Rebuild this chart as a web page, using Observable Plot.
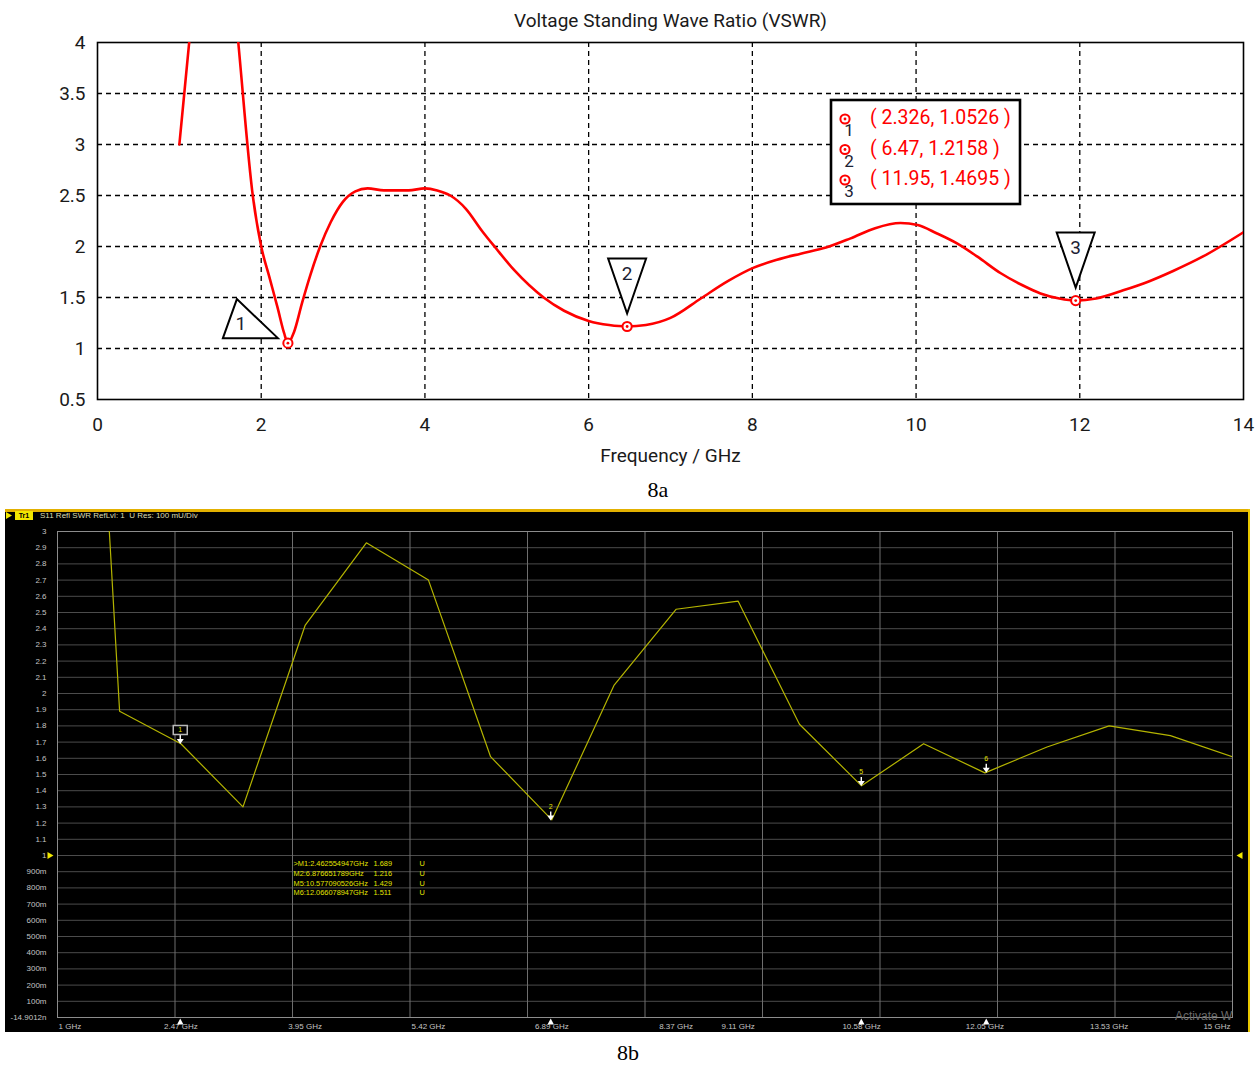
<!DOCTYPE html>
<html><head><meta charset="utf-8">
<script src="https://cdn.jsdelivr.net/npm/d3@7"></script>
<script src="https://cdn.jsdelivr.net/npm/@observablehq/plot@0.6"></script>
<style>
body{margin:0;background:#fff;width:1258px;height:1068px;position:relative;overflow:hidden}
#top{position:absolute;left:0;top:0}
#bot{position:absolute;left:5px;top:509px}
.cap{position:absolute;font-family:"Liberation Serif",serif;font-size:22px;color:#000;transform:translate(-50%,-50%)}
</style></head><body>
<div id="top"></div>
<div class="cap" style="left:658px;top:490px">8a</div>
<div id="bot"></div>
<div class="cap" style="left:628px;top:1053px">8b</div>
<script>
// ---------- 8a : simulated VSWR ----------
const simFreq = [1.0, 1.12, 1.3, 1.55, 1.72, 1.9, 2.0, 2.1, 2.2, 2.28, 2.326, 2.4, 2.5, 2.6, 2.72, 2.85, 3.0, 3.15, 3.3, 3.5, 3.8, 4.0, 4.15, 4.31, 4.5, 4.7, 4.86, 5.1, 5.45, 5.7, 6.0, 6.25, 6.47, 6.7, 7.0, 7.37, 7.7, 8.01, 8.3, 8.59, 8.9, 9.2, 9.5, 9.81, 10.02, 10.25, 10.5, 10.75, 11.03, 11.3, 11.52, 11.75, 11.95, 12.2, 12.53, 12.85, 13.14, 13.5, 14.0];
const simVswr = [3.0, 4.0, 5.5, 5.5, 4.0, 2.48, 2.0, 1.7, 1.4, 1.15, 1.0526, 1.16, 1.45, 1.72, 2.0, 2.24, 2.44, 2.54, 2.57, 2.55, 2.55, 2.57, 2.55, 2.5, 2.37, 2.15, 1.99, 1.76, 1.5, 1.37, 1.27, 1.23, 1.2158, 1.23, 1.3, 1.49, 1.66, 1.79, 1.87, 1.93, 1.99, 2.08, 2.18, 2.23, 2.21, 2.13, 2.03, 1.9, 1.74, 1.62, 1.54, 1.49, 1.4695, 1.49, 1.57, 1.66, 1.76, 1.9, 2.14];
const simMarkerName = ["1", "2", "3"];
const simMarkerFreq = [2.326, 6.47, 11.95];
const simMarkerVswr = [1.0526, 1.2158, 1.4695];
const simXTicks = [0, 2, 4, 6, 8, 10, 12, 14];
const simYTicks = [0.5, 1, 1.5, 2, 2.5, 3, 3.5, 4];
const simXGrid = [2, 4, 6, 8, 10, 12];
const simYGrid = [1, 1.5, 2, 2.5, 3, 3.5];

// ---------- 8b : measured VSWR (VNA) ----------
const vnaFreq = [1, 1.74, 2.47, 3.21, 3.95, 4.68, 5.42, 6.16, 6.89, 7.63, 8.37, 9.11, 9.84, 10.58, 11.32, 12.05, 12.79, 13.53, 14.26, 15];
const vnaSwr = [8.6, 1.89, 1.69, 1.30, 2.42, 2.93, 2.70, 1.61, 1.22, 2.05, 2.52, 2.57, 1.81, 1.43, 1.69, 1.51, 1.67, 1.80, 1.74, 1.61];
const vnaMarkerName = ["1", "2", "5", "6"];
const vnaMarkerFreq = [2.462554947, 6.876651789, 10.577090526, 12.066078947];
const vnaMarkerSwr = [1.689, 1.216, 1.429, 1.511];
const vnaMarkerText = [">M1:2.462554947GHz", "M2:6.876651789GHz", "M5:10.577090526GHz", "M6:12.066078947GHz"];
const vnaXLabelVal = [1, 2.47, 3.95, 5.42, 6.89, 8.37, 9.11, 10.58, 12.05, 13.53, 15];
const vnaXLabelText = ["1 GHz", "2.47 GHz", "3.95 GHz", "5.42 GHz", "6.89 GHz", "8.37 GHz", "9.11 GHz", "10.58 GHz", "12.05 GHz", "13.53 GHz", "15 GHz"];
const vnaXGrid = [2.4, 3.8, 5.2, 6.6, 8.0, 9.4, 10.8, 12.2, 13.6];
const vnaYTickVal = [0, 0.1, 0.2, 0.3, 0.4, 0.5, 0.6, 0.7, 0.8, 0.9, 1, 1.1, 1.2, 1.3, 1.4, 1.5, 1.6, 1.7, 1.8, 1.9, 2, 2.1, 2.2, 2.3, 2.4, 2.5, 2.6, 2.7, 2.8, 2.9, 3];
const vnaYTickText = ["-14.9012n", "100m", "200m", "300m", "400m", "500m", "600m", "700m", "800m", "900m", "1", "1.1", "1.2", "1.3", "1.4", "1.5", "1.6", "1.7", "1.8", "1.9", "2", "2.1", "2.2", "2.3", "2.4", "2.5", "2.6", "2.7", "2.8", "2.9", "3"];
const vnaYGrid = vnaYTickVal.slice(1, -1);
const vnaRefLevel = [1];

// ---------- build tables ----------
const sim = simFreq.map((f, i) => ({f, v: simVswr[i]}));
const simMarkers = simMarkerFreq.map((f, i) => ({f, v: simMarkerVswr[i], name: simMarkerName[i]}));
const vna = vnaFreq.map((f, i) => ({f, v: vnaSwr[i]}));
const vnaMarkers = vnaMarkerFreq.map((f, i) => ({f, v: vnaMarkerSwr[i], name: vnaMarkerName[i]}));
const vnaLabels = vnaXLabelVal.map((v, i) => ({v, t: vnaXLabelText[i]}));
const yLabMap = new Map(vnaYTickVal.map((v, i) => [v, vnaYTickText[i]]));

// custom glyphs
const triLeft = {draw(c) { c.moveTo(-65, -5); c.lineTo(-51, -44); c.lineTo(-10, -5); c.closePath(); }};
const triDown = {draw(c) { c.moveTo(-19, -68); c.lineTo(19, -68); c.lineTo(0, -13); c.closePath(); }};
const arrowDown = {draw(c) { c.moveTo(-3.5, -5); c.lineTo(3.5, -5); c.lineTo(0, 0); c.closePath(); c.moveTo(-0.7, -9); c.lineTo(0.7, -9); c.lineTo(0.7, -5); c.lineTo(-0.7, -5); c.closePath(); }};
const boxSym = {draw(c) { c.rect(-7, -4.5, 14, 9); }};
const upTri = {draw(c) { c.moveTo(0, 1); c.lineTo(-3.2, 7); c.lineTo(3.2, 7); c.closePath(); }};
const rightTri = {draw(c) { c.moveTo(-10, -3.5); c.lineTo(-10, 3.5); c.lineTo(-4, 0); c.closePath(); }};
const leftTri = {draw(c) { c.moveTo(10, -3.5); c.lineTo(10, 3.5); c.lineTo(4, 0); c.closePath(); }};

const topPlot = Plot.plot({
  width: 1258, height: 470,
  marginTop: 42, marginBottom: 71, marginLeft: 97, marginRight: 15,
  style: {fontFamily: "Roboto", fontSize: "19px", background: "white", color: "#1a1a1a", overflow: "visible"},
  x: {domain: [0, 14]},
  y: {domain: [0.5, 4]},
  marks: [
    Plot.gridX(simXGrid, {stroke: "black", strokeOpacity: 1, strokeWidth: 1.3, strokeDasharray: "5,4"}),
    Plot.gridY(simYGrid, {stroke: "black", strokeOpacity: 1, strokeWidth: 1.3, strokeDasharray: "5,4"}),
    Plot.frame({stroke: "black", strokeWidth: 1.6}),
    Plot.axisX(simXTicks, {tickSize: 0, tickPadding: 18, label: null, tickFormat: d => String(d)}),
    Plot.axisY(simYTicks, {tickSize: 0, tickPadding: 12, label: null, tickFormat: d => String(d)}),
    Plot.text(["Voltage Standing Wave Ratio (VSWR)"], {frameAnchor: "top", lineAnchor: "middle", dy: -22, fontSize: 19}),
    Plot.text(["Frequency / GHz"], {frameAnchor: "bottom", lineAnchor: "middle", dy: 56, fontSize: 19}),
    Plot.line(sim, {x: "f", y: "v", stroke: "#ff0000", strokeWidth: 2.6, curve: "monotone-x", clip: true}),
    Plot.dot(simMarkers.filter(d => d.name === "1"), {x: "f", y: "v", symbol: triLeft, stroke: "black", strokeWidth: 2, fill: "white"}),
    Plot.dot(simMarkers.filter(d => d.name !== "1"), {x: "f", y: "v", symbol: triDown, stroke: "black", strokeWidth: 2, fill: "white"}),
    Plot.text(simMarkers.filter(d => d.name === "1"), {x: "f", y: "v", text: "name", dx: -47, dy: -19, fontSize: 19, fill: "#1c2233"}),
    Plot.text(simMarkers.filter(d => d.name !== "1"), {x: "f", y: "v", text: "name", dx: 0, dy: -53, fontSize: 19, fill: "#1c2233"}),
    Plot.dot(simMarkers, {x: "f", y: "v", r: 4.6, stroke: "#ff0000", strokeWidth: 2, fill: "white"}),
    Plot.dot(simMarkers, {x: "f", y: "v", r: 1.4, fill: "#ff0000"})
  ]
});
document.getElementById("top").appendChild(topPlot);

// legend box of marker readouts
{
  const svg = d3.select(topPlot);
  const g = svg.append("g").attr("font-family", "Roboto").attr("text-anchor", "start");
  g.append("rect").attr("x", 831).attr("y", 100).attr("width", 189).attr("height", 104)
    .attr("fill", "white").attr("stroke", "black").attr("stroke-width", 2.6);
  simMarkers.forEach((d, i) => {
    const cy = 119 + i * 30.5;
    g.append("circle").attr("cx", 845).attr("cy", cy).attr("r", 4.6).attr("fill", "white").attr("stroke", "#ff0000").attr("stroke-width", 2);
    g.append("circle").attr("cx", 845).attr("cy", cy).attr("r", 1.4).attr("fill", "#ff0000");
    g.append("text").attr("x", 849).attr("y", cy + 13).attr("text-anchor", "middle").attr("dominant-baseline", "middle")
      .attr("font-size", 17).attr("fill", "#1c2233").text(d.name);
    g.append("text").attr("x", 870).attr("y", cy).attr("text-anchor", "start").attr("dominant-baseline", "middle")
      .attr("font-size", 19.5).attr("fill", "#ff0000").text(`( ${d.f}, ${d.v} )`);
  });
}

const lab = "#c4c4c4";
const ro = {frameAnchor: "top-left", dy: 328, lineAnchor: "top", textAnchor: "start", lineHeight: 1.3, fill: "#e4e400", fontSize: 7.4};
const botPlot = Plot.plot({
  width: 1245, height: 523,
  marginTop: 22, marginBottom: 15, marginLeft: 52, marginRight: 18,
  style: {fontFamily: "Liberation Sans", fontSize: "8px", background: "black", color: lab, overflow: "hidden"},
  x: {domain: [1, 15], axis: null},
  y: {domain: [0, 3]},
  marks: [
    Plot.gridY(vnaYGrid, {stroke: "#4c4c4c", strokeOpacity: 1}),
    Plot.gridX(vnaXGrid, {stroke: "#6e6e6e", strokeOpacity: 1}),
    Plot.frame({stroke: "#8c8c8c"}),
    Plot.axisY(vnaYTickVal, {tickSize: 0, tickPadding: 11, label: null, fill: lab, tickFormat: d => yLabMap.get(d)}),
    Plot.text(vnaLabels.slice(1, -1), {x: "v", text: "t", frameAnchor: "bottom", dy: 11, fill: lab}),
    Plot.text(vnaLabels.slice(0, 1), {x: "v", text: "t", frameAnchor: "bottom", dy: 11, dx: 1, textAnchor: "start", fill: lab}),
    Plot.text(vnaLabels.slice(-1), {x: "v", text: "t", frameAnchor: "bottom", dy: 11, dx: -2, textAnchor: "end", fill: lab}),
    Plot.dot(vnaMarkers, {x: "f", frameAnchor: "bottom", symbol: upTri, fill: "white"}),
    Plot.dot(vnaRefLevel, {y: d => d, frameAnchor: "left", symbol: rightTri, fill: "#f0e800"}),
    Plot.dot(vnaRefLevel, {y: d => d, frameAnchor: "right", symbol: leftTri, fill: "#f0e800"}),
    Plot.line(vna, {x: "f", y: "v", stroke: "#b4b400", strokeWidth: 1.2, clip: true}),
    Plot.dot(vnaMarkers, {x: "f", y: "v", symbol: arrowDown, fill: "white"}),
    Plot.dot(vnaMarkers.filter(d => d.name === "1"), {x: "f", y: "v", symbol: boxSym, dy: -14, stroke: "#b8b8b8", fill: "black"}),
    Plot.text(vnaMarkers, {x: "f", y: "v", text: "name", dy: -14, fontSize: 7, fill: "#e0e000"}),
    Plot.text([vnaMarkerText.join("\n")], {...ro, dx: 236}),
    Plot.text([vnaMarkerSwr.map(v => v.toFixed(3)).join("\n")], {...ro, dx: 316}),
    Plot.text([vnaMarkerSwr.map(() => "U").join("\n")], {...ro, dx: 362})
  ]
});
document.getElementById("bot").appendChild(botPlot);

// instrument panel decorations
{
  const svg = d3.select(botPlot);
  const g = svg.append("g").attr("font-family", "Liberation Sans").attr("text-anchor", "start");
  g.append("rect").attr("x", 0).attr("y", 0).attr("width", 1245).attr("height", 3).attr("fill", "#e2b000");
  g.append("rect").attr("x", 1243).attr("y", 0).attr("width", 2).attr("height", 523).attr("fill", "#e8c800");
  g.append("path").attr("d", "M1,3L7,6.5L1,10Z").attr("fill", "#f0e800");
  g.append("rect").attr("x", 10).attr("y", 2).attr("width", 18).attr("height", 9).attr("fill", "#f2e600");
  g.append("text").attr("x", 19).attr("y", 6.8).attr("text-anchor", "middle").attr("dominant-baseline", "middle")
    .attr("font-size", 7).attr("font-weight", "bold").attr("fill", "black").text("Tr1");
  g.append("text").attr("x", 35).attr("y", 7).attr("text-anchor", "start").attr("dominant-baseline", "middle")
    .attr("font-size", 8).attr("fill", "#dcdcb0").attr("xml:space", "preserve").text("S11 Refl SWR RefLvl: 1  U Res: 100 mU/Div");
  g.append("text").attr("x", 1170).attr("y", 508).attr("text-anchor", "start").attr("dominant-baseline", "middle")
    .attr("font-size", 12).attr("fill", "#6a6a6a").text("Activate W");
}
</script>
</body></html>
